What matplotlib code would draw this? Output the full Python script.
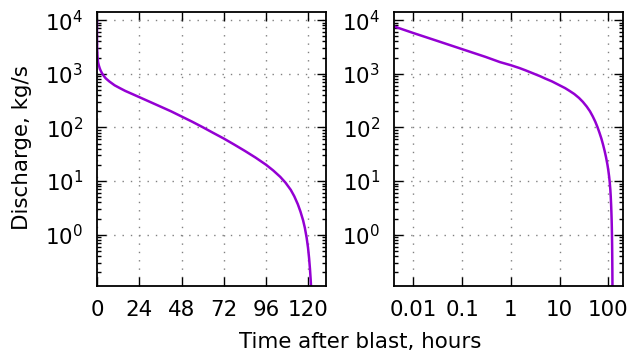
import matplotlib
matplotlib.use('Agg')
import matplotlib.pyplot as plt
from matplotlib.ticker import FixedLocator, FixedFormatter, LogLocator, NullFormatter

# discharge curve
hours = [0.002, 0.0043, 0.01, 0.03, 0.1, 0.3, 0.6, 1, 1.5, 2, 3, 4, 5, 7,
         10, 13, 16, 20, 25, 30, 36, 42, 48, 54, 60, 66, 72, 78, 84, 90,
         96, 100, 104, 107, 110, 112, 114, 115.5, 117, 118, 119, 119.8,
         120.4, 120.9, 121.3, 121.6]
discharge = [9500, 7470, 5750, 4140, 2880, 2070, 1650, 1445, 1280, 1160,
             1000, 900, 820, 720, 610, 540, 480, 420, 355, 300, 245, 200,
             160, 128, 101, 79, 62, 47.7, 36.4, 27.4, 20.1, 15.8, 12.0,
             9.35, 6.85, 5.2, 3.7, 2.7, 1.85, 1.34, 0.88, 0.57, 0.365,
             0.23, 0.145, 0.096]

lin_ticks = [0, 24, 48, 72, 96, 120]
log_ticks = [0.01, 0.1, 1, 10, 100]
log_labels = ['0.01', '0.1', '1', '10', '100']

color = '#9400d3'
fs = 15.4

fig = plt.figure(figsize=(6.29, 3.56), dpi=100)
ax1 = fig.add_axes([97 / 629, 1 - 285.7 / 356, 229 / 629, 274.2 / 356])
ax2 = fig.add_axes([394 / 629, 1 - 285.7 / 356, 229 / 629, 274.2 / 356])

for ax in (ax1, ax2):
    ax.plot(hours, discharge, color=color, lw=1.8)
    ax.set_yscale('log')
    ax.set_ylim(0.112, 1.45e4)
    ax.grid(True, color='0.5', linestyle=(0, (1, 5)), linewidth=1.0)
    ax.tick_params(which='both', direction='in', top=True, right=True,
                   labelsize=fs, width=1.0)
    ax.tick_params(which='major', length=6.4, pad=10)
    ax.tick_params(which='minor', length=3.2)
    for s in ax.spines.values():
        s.set_linewidth(1.3)

ax1.set_xlim(0, 130)
ax1.xaxis.set_major_locator(FixedLocator(lin_ticks))

ax2.set_xscale('log')
ax2.set_xlim(0.004, 200)
ax2.xaxis.set_major_locator(FixedLocator(log_ticks))
ax2.xaxis.set_major_formatter(FixedFormatter(log_labels))
ax2.xaxis.set_minor_locator(LogLocator(base=10, subs=range(2, 10)))
ax2.xaxis.set_minor_formatter(NullFormatter())

fig.text(22 / 629, 1 - 148 / 356, 'Discharge, kg/s', fontsize=fs,
         rotation=90, ha='center', va='center')
fig.text(360 / 629, 1 - 342 / 356, 'Time after blast, hours',
         fontsize=fs, ha='center', va='center')

fig.savefig('out.png', dpi=100)
